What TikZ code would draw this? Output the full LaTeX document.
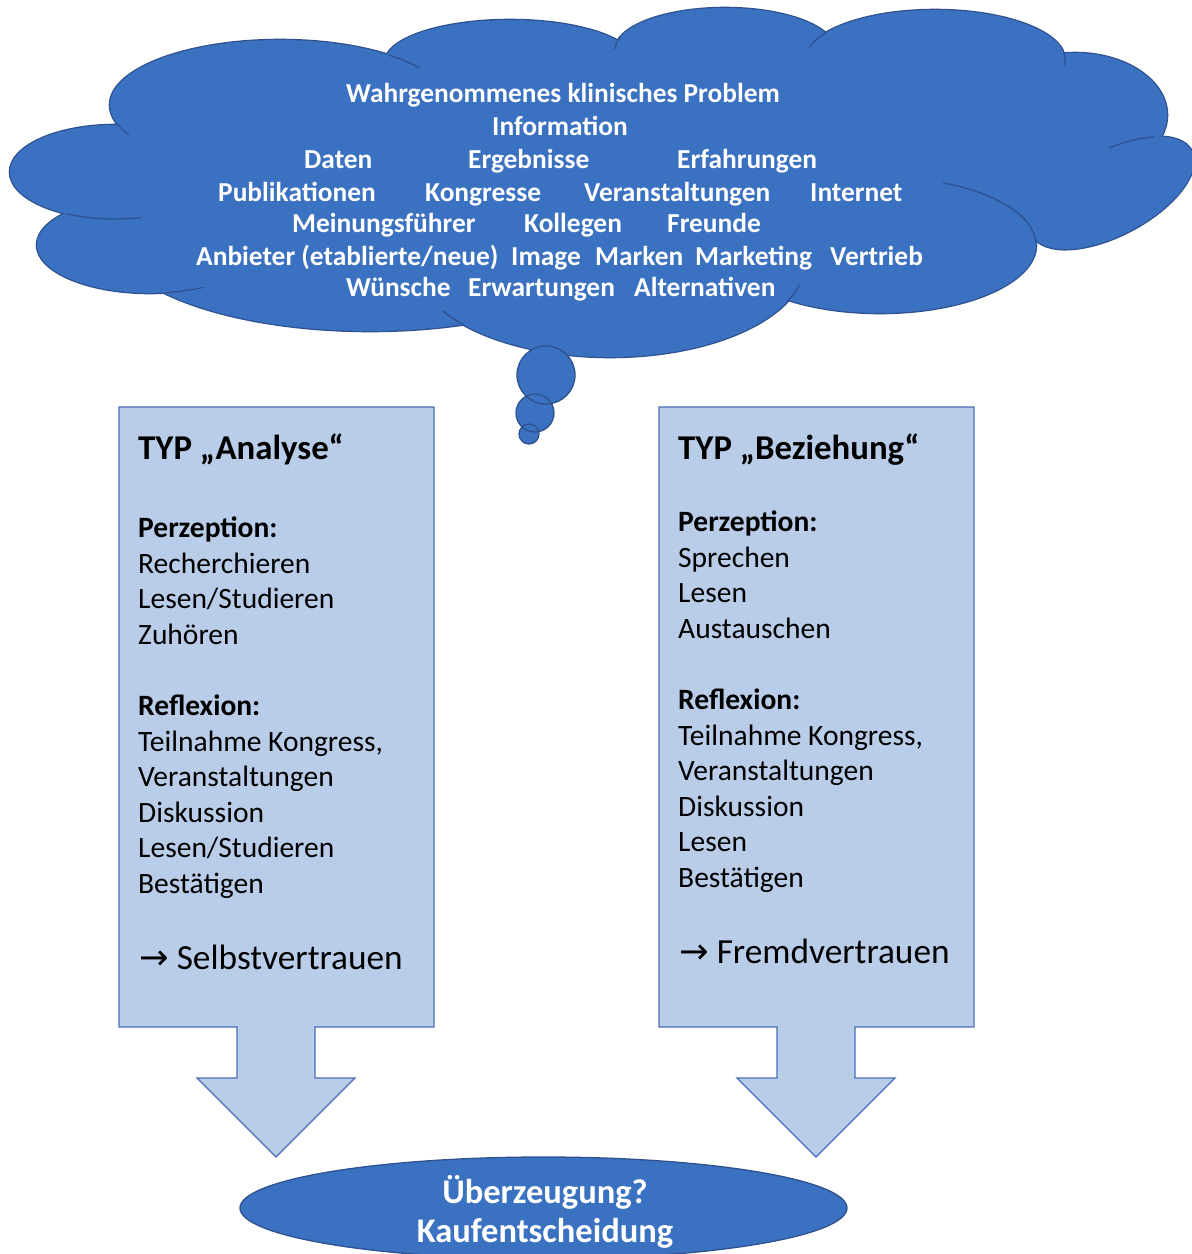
\documentclass[tikz,border=0pt]{standalone}
\usepackage{fontspec}
\setmainfont{Carlito}
\newfontfamily\arrowfont{DejaVu Sans}
\usetikzlibrary{shapes.geometric}
\definecolor{cloudblue}{RGB}{58,113,193}
\definecolor{cloudline}{RGB}{47,82,143}
\definecolor{boxfill}{RGB}{185,205,233}
\definecolor{boxline}{RGB}{74,110,180}
\tikzset{
  cloudtxt/.style={text=white, font=\bfseries\fontsize{27.4}{32}\selectfont, anchor=base west, inner sep=0pt},
  boxtxt/.style={text=black, font=\fontsize{29.5}{35}\selectfont, anchor=base west, inner sep=0pt},
  boxbold/.style={boxtxt, font=\bfseries\fontsize{29.5}{35}\selectfont},
  boxtitle/.style={boxtxt, font=\bfseries\fontsize{34.8}{40}\selectfont},
  boxresult/.style={boxtxt, font=\fontsize{35.3}{40}\selectfont},
  decisiontxt/.style={text=white, font=\bfseries\fontsize{34.5}{40}\selectfont, anchor=base, inner sep=0pt},
  calloutbox/.style={fill=boxfill, draw=boxline, line width=1.3pt, line join=miter},
  lobe/.style={fill=cloudblue},
  lobeline/.style={draw=cloudline, line width=2.6pt},
  innerarc/.style={draw=cloudline, line width=1.3pt, line cap=round},
}
\newcommand\cloudlobes[1]{%
  \path[#1] (115,172) ellipse [x radius=105, y radius=47]
    (150,245) ellipse [x radius=113, y radius=48]
    (370,233) ellipse [x radius=260, y radius=98]
    (610,262) ellipse [x radius=195, y radius=95]
    (880,245) ellipse [x radius=156, y radius=68]
    (1075,115) ellipse [x radius=92, y radius=62]
    (935,60) ellipse [x radius=130, y radius=50]
    (725,50) ellipse [x radius=110, y radius=42]
    (510,62) ellipse [x radius=125, y radius=42]
    (280,105) ellipse [x radius=170, y radius=65]
    (600,185) ellipse [x radius=460, y radius=120]
    (600,125) ellipse [x radius=400, y radius=80]
    (960,140) ellipse [x radius=110, y radius=55]
    (980,160) ellipse [x radius=110, y radius=60];
  \begin{scope}[shift={(1112,193)}, rotate=28]
    \path[#1] (0,0) ellipse [x radius=90, y radius=42];
  \end{scope}}
\begin{document}
\begin{tikzpicture}[x=1pt,y=-1pt]
\useasboundingbox[fill=white] (0,0) rectangle (1192,1254);

% ---------- cloud ----------
\cloudlobes{lobeline}
\cloudlobes{lobe}
\draw[innerarc] (280,105) ++(163.5:170 and 65) arc[start angle=163.5, end angle=153, x radius=170, y radius=65];
\draw[innerarc] (280,105) ++(310:170 and 65) arc[start angle=310, end angle=325, x radius=170, y radius=65];
\draw[innerarc] (725,50) ++(197:110 and 42) arc[start angle=197, end angle=182, x radius=110, y radius=42];
\draw[innerarc] (935,60) ++(213:130 and 50) arc[start angle=213, end angle=195, x radius=130, y radius=50];
\draw[innerarc] (935,60) ++(352:130 and 50) arc[start angle=352, end angle=366, x radius=130, y radius=50];
\draw[innerarc] (115,172) ++(117:105 and 47) arc[start angle=117, end angle=76, x radius=105, y radius=47];
\draw[innerarc] (150,245) ++(82:113 and 48) arc[start angle=82, end angle=62, x radius=113, y radius=48];
\draw[innerarc] (610,262) ++(139:195 and 95) arc[start angle=139, end angle=149, x radius=195, y radius=95];
\draw[innerarc] (610,262) ++(25:195 and 95) arc[start angle=25, end angle=14, x radius=195, y radius=95];
\draw[innerarc] (880,245) ++(-3:156 and 68) arc[start angle=-3, end angle=-66, x radius=156, y radius=68];
\begin{scope}[shift={(1112,193)}, rotate=28]
  \draw[innerarc] (0,0) ++(-45:90 and 42) arc[start angle=-45, end angle=-78, x radius=90, y radius=42];
\end{scope}

% thought bubbles
\path[lobe] (546,375) circle[radius=29] (535,413) circle[radius=19] (529,434) circle[radius=10];
\draw[innerarc] (546,375) circle[radius=29] (535,413) circle[radius=19] (529,434) circle[radius=10];

% cloud text
\node[cloudtxt] (c1) at (346,102) {Wahrgenommenes klinisches Problem};
\node[cloudtxt] (c2) at (492,135) {Information};
\node[cloudtxt] (c3a) at (304,168) {Daten};
\node[cloudtxt] (c3b) at (468,168) {Ergebnisse};
\node[cloudtxt] (c3c) at (677,168) {Erfahrungen};
\node[cloudtxt] (c4a) at (218,201) {Publikationen};
\node[cloudtxt] (c4b) at (425,201) {Kongresse};
\node[cloudtxt] (c4c) at (584,201) {Veranstaltungen};
\node[cloudtxt] (c4d) at (810,201) {Internet};
\node[cloudtxt] (c5a) at (292,232) {Meinungsführer};
\node[cloudtxt] (c5b) at (524,232) {Kollegen};
\node[cloudtxt] (c5c) at (667,232) {Freunde};
\node[cloudtxt] (c6a) at (196,265) {Anbieter (etablierte/neue)};
\node[cloudtxt] (c6b) at (511,265) {Image};
\node[cloudtxt] (c6c) at (595,265) {Marken};
\node[cloudtxt] (c6d) at (695,265) {Marketing};
\node[cloudtxt] (c6e) at (830,265) {Vertrieb};
\node[cloudtxt] (c7a) at (346,296) {Wünsche};
\node[cloudtxt] (c7b) at (468,296) {Erwartungen};
\node[cloudtxt] (c7c) at (634,296) {Alternativen};

% ---------- callout boxes ----------
\draw[calloutbox] (119,407) -- (434,407) -- (434,1027) -- (315,1027) -- (315,1078) -- (355,1078)
  -- (276,1157) -- (197,1078) -- (237,1078) -- (237,1027) -- (119,1027) -- cycle;
\draw[calloutbox] (659,407) -- (974,407) -- (974,1027) -- (855,1027) -- (855,1078) -- (895,1078)
  -- (816,1157) -- (737,1078) -- (777,1078) -- (777,1027) -- (659,1027) -- cycle;

% left box text
\node[boxtitle] (a0) at (138,459) {TYP „Analyse“};
\node[boxbold] (a1) at (138,537.5) {Perzeption:};
\node[boxtxt] (a2) at (138,573) {Recherchieren};
\node[boxtxt] (a3) at (138,608.5) {Lesen/Studieren};
\node[boxtxt] (a4) at (138,644) {Zuhören};
\node[boxbold] (a5) at (138,715.5) {Reflexion:};
\node[boxtxt] (a6) at (138,751) {Teilnahme Kongress,};
\node[boxtxt] (a7) at (138,786.5) {Veranstaltungen};
\node[boxtxt] (a8) at (138,822) {Diskussion};
\node[boxtxt] (a9) at (138,857.5) {Lesen/Studieren};
\node[boxtxt] (a10) at (138,893) {Bestätigen};
\node[boxresult] (a11) at (139,969) {{\arrowfont →}\ Selbstvertrauen};

% right box text
\node[boxtitle] (b0) at (678,459) {TYP „Beziehung“};
\node[boxbold] (b1) at (678,531.5) {Perzeption:};
\node[boxtxt] (b2) at (678,567) {Sprechen};
\node[boxtxt] (b3) at (678,602.5) {Lesen};
\node[boxtxt] (b4) at (678,638) {Austauschen};
\node[boxbold] (b5) at (678,709.5) {Reflexion:};
\node[boxtxt] (b6) at (678,745) {Teilnahme Kongress,};
\node[boxtxt] (b7) at (678,780.5) {Veranstaltungen};
\node[boxtxt] (b8) at (678,816) {Diskussion};
\node[boxtxt] (b9) at (678,851.5) {Lesen};
\node[boxtxt] (b10) at (678,887) {Bestätigen};
\node[boxresult] (b11) at (679,963) {{\arrowfont →}\ Fremdvertrauen};

% ---------- decision ellipse ----------
\node[ellipse, fill=cloudblue, draw=cloudline, line width=1.3pt, minimum width=607pt, minimum height=102pt, inner sep=0pt] (dec) at (543.5,1208) {};
\node[decisiontxt] (d1) at (545,1203) {Überzeugung?};
\node[decisiontxt] (d2) at (545,1242) {Kaufentscheidung};
\end{tikzpicture}
\end{document}
